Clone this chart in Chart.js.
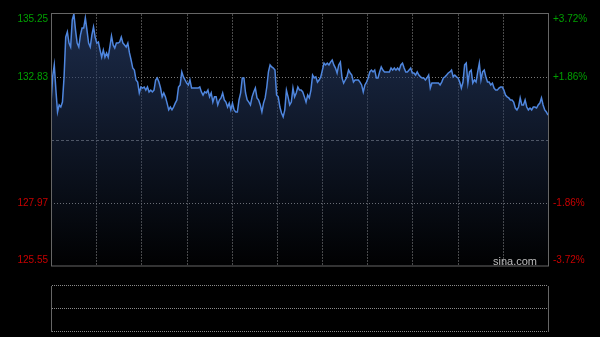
<!DOCTYPE html>
<html>
<head>
<meta charset="utf-8">
<script src="https://cdn.jsdelivr.net/npm/chart.js@4"></script>
<style>
  html, body { margin: 0; padding: 0; background: #000; }
  #wrap { position: relative; width: 600px; height: 337px; }
  canvas { position: absolute; left: 0; }
</style>
</head>
<body>
<div id="wrap">
  <canvas id="priceChart" width="600" height="337" style="top:0"></canvas>
  <canvas id="volChart" width="600" height="59" style="top:278px"></canvas>
</div>
<script>
// intraday prices
const prices = [
    131.82, 132.83, 133.29, 132.32, 131.48, 131.75, 131.67, 131.86, 132.83, 134.36,
    134.56, 134.13, 133.98, 135.02, 135.25, 134.63, 134.13, 133.98, 134.44, 134.71,
    134.71, 135.10, 134.63, 134.13, 133.98, 134.44, 134.75, 134.36, 134.13, 134.17,
    133.86, 133.59, 133.86, 133.59, 133.75, 133.59, 133.98, 134.40, 134.06, 133.94,
    134.13, 134.13, 134.17, 134.36, 134.13, 134.06, 133.98, 134.13, 133.75, 133.48,
    133.17, 133.09, 132.71, 132.63, 132.21, 132.44, 132.40, 132.44, 132.32, 132.44,
    132.25, 132.32, 132.25, 132.32, 132.71, 132.79, 132.63, 132.40, 132.06, 132.21,
    132.06, 131.82, 131.56, 131.67, 131.56, 131.67, 131.82, 131.94,
    132.44, 132.52, 133.02, 132.83, 132.71, 132.59, 132.52, 132.71, 132.40, 132.40,
    132.40, 132.40, 132.40, 132.44, 132.25, 132.13, 132.25, 132.21, 132.32, 132.06,
    132.21, 131.86, 132.06, 132.06, 131.75, 131.94, 132.02, 132.21, 131.94, 131.86,
    131.67, 131.82, 131.56, 131.82, 131.56, 131.48, 131.48, 131.94, 132.21, 132.79,
    132.79, 132.21, 131.94, 131.86, 131.75, 132.06, 132.25, 132.40, 132.02, 131.94,
    131.75, 131.48, 131.82, 132.02, 132.44, 133.02, 133.29, 133.21, 133.17, 133.09,
    132.13, 132.06, 131.67, 131.44, 131.29, 131.56, 132.32, 132.06, 131.75, 131.86,
    132.40, 132.06, 132.21, 132.44, 132.32,
    132.32, 132.25, 132.06, 131.86, 132.13, 132.02, 132.32, 132.90, 132.79, 132.83,
    132.63, 132.71, 132.83, 133.09, 133.36, 133.29, 133.36, 133.29, 133.40, 133.48,
    133.29, 133.17, 132.98, 133.29, 133.40, 132.79, 132.59, 132.71, 132.83, 133.09,
    132.98, 132.90, 132.63, 132.71, 132.71, 132.71, 132.63, 132.52, 132.25, 132.52,
    132.63, 132.79, 133.02, 133.09, 133.02, 133.09, 132.79, 132.79, 133.02, 133.21,
    133.09, 133.02, 133.02, 133.02, 133.02, 133.17, 133.09, 133.17, 133.09, 133.17,
    133.09, 133.29, 133.36, 133.17, 133.02, 133.02, 133.09, 133.17, 132.98, 132.98,
    132.90, 133.02, 132.90, 132.83, 132.79, 132.79,
    132.71, 132.79, 132.90, 132.40, 132.59, 132.59, 132.59, 132.59, 132.59, 132.52,
    132.63, 132.79, 132.83, 132.90, 132.98, 133.02, 133.09, 132.83, 132.90, 132.83,
    132.79, 132.63, 132.40, 132.63, 133.29, 133.36, 132.59, 133.02, 133.09, 132.59,
    132.71, 132.63, 133.02, 133.36, 132.71, 133.02, 133.09, 132.83, 132.63, 132.63,
    132.52, 132.59, 132.40, 132.32, 132.32, 132.40, 132.44, 132.44, 132.32, 132.13,
    132.06, 132.02, 131.94, 131.94, 131.86, 131.63, 131.56, 131.67, 132.02, 131.75,
    131.75, 131.94, 131.67, 131.56, 131.63, 131.56, 131.67, 131.67, 131.63, 131.75,
    131.82, 132.02, 131.75, 131.56, 131.48, 131.36
];

const prevClose = 130.40;
const yTicks = [135.25, 132.83, 130.40, 127.97, 125.55];
const priceLabels = ['135.25', '132.83', '', '127.97', '125.55'];
const pctLabels = ['+3.72%', '+1.86%', '', '-1.86%', '-3.72%'];
const timeDivisions = 11;

const UP = '#00a000';
const DOWN = '#c80000';
const FRAME = '#666666';
const N = prices.length;

// grid + frame + side labels
const decorPlugin = {
    id: 'decor',
    beforeDatasetsDraw(chart) {
        const { ctx, chartArea: a, scales: { x, y } } = chart;
        ctx.save();
        ctx.lineWidth = 1;
        // vertical dotted lines
        ctx.strokeStyle = '#4a4a4a';
        ctx.setLineDash([2, 1]);
        for (let k = 1; k < timeDivisions; k++) {
            const px = Math.round(x.getPixelForValue(k * (N - 1) / timeDivisions)) + 0.5;
            ctx.beginPath();
            ctx.moveTo(px, a.top);
            ctx.lineTo(px, a.bottom);
            ctx.stroke();
        }
        // horizontal lines
        yTicks.forEach(v => {
            if (v === yTicks[0] || v === yTicks[yTicks.length - 1]) return;
            const py = Math.round(y.getPixelForValue(v)) + 0.5;
            if (v === prevClose) {
                ctx.strokeStyle = '#6a6a6a';
                ctx.setLineDash([3, 2]);
            } else {
                ctx.strokeStyle = '#7a7a7a';
                ctx.setLineDash([1, 2]);
            }
            ctx.beginPath();
            ctx.moveTo(a.left, py);
            ctx.lineTo(a.right, py);
            ctx.stroke();
        });
        ctx.restore();
    },
    afterDraw(chart) {
        const { ctx, chartArea: a, scales: { y } } = chart;
        ctx.save();
        ctx.strokeStyle = FRAME;
        ctx.lineWidth = 1;
        ctx.setLineDash([]);
        ctx.strokeRect(a.left + 0.5, a.top - 0.5, a.right - a.left, a.bottom - a.top + 0.5);

        ctx.font = '10px "Liberation Sans", Arial, sans-serif';
        ctx.textBaseline = 'middle';
        yTicks.forEach((v, i) => {
            let py = y.getPixelForValue(v);
            py = Math.max(a.top + 5, Math.min(a.bottom - 6, py));
            ctx.fillStyle = v > prevClose ? UP : DOWN;
            ctx.textAlign = 'right';
            ctx.fillText(priceLabels[i], a.left - 3, py);
            ctx.textAlign = 'left';
            ctx.fillText(pctLabels[i], a.right + 5, py);
        });

        ctx.font = '11px "Liberation Sans", Arial, sans-serif';
        ctx.fillStyle = '#bdbdbd';
        ctx.textAlign = 'right';
        ctx.fillText('sina.com', a.right - 11, a.bottom - 4);
        ctx.restore();
    }
};

new Chart(document.getElementById('priceChart'), {
    type: 'line',
    data: {
        datasets: [{
            data: prices.map((p, i) => ({ x: i, y: p })),
            borderColor: '#4f86de',
            borderWidth: 1.5,
            pointRadius: 0,
            tension: 0,
            fill: 'start',
            backgroundColor: (context) => {
                const { ctx, chartArea } = context.chart;
                if (!chartArea) return 'rgba(36,56,96,0.4)';
                const g = ctx.createLinearGradient(0, chartArea.top, 0, chartArea.bottom);
                g.addColorStop(0, 'rgba(36,56,96,0.78)');
                g.addColorStop(1, 'rgba(36,56,96,0.02)');
                return g;
            }
        }]
    },
    options: {
        responsive: false,
        animation: false,
        layout: { padding: { left: 51, right: 52, top: 14, bottom: 71 } },
        plugins: { legend: { display: false }, tooltip: { enabled: false } },
        scales: {
            x: { type: 'linear', min: 0, max: N - 1, display: false },
            y: { min: yTicks[yTicks.length - 1], max: yTicks[0], display: false }
        }
    },
    plugins: [decorPlugin]
});

// volume panel (bars are too small to read, only the frame shows)
const volPlugin = {
    id: 'volFrame',
    afterDraw(chart) {
        const { ctx, chartArea: a, scales: { y } } = chart;
        ctx.save();
        ctx.lineWidth = 1;
        ctx.strokeStyle = FRAME;
        ctx.beginPath();
        ctx.moveTo(a.left + 0.5, a.top);
        ctx.lineTo(a.left + 0.5, a.bottom);
        ctx.moveTo(a.right + 0.5, a.top);
        ctx.lineTo(a.right + 0.5, a.bottom);
        ctx.stroke();
        ctx.strokeStyle = '#8a8a8a';
        ctx.setLineDash([1, 1]);
        [1, 0.5, 0].forEach(v => {
            const py = Math.round(y.getPixelForValue(v)) - 0.5;
            ctx.beginPath();
            ctx.moveTo(a.left + 1, py);
            ctx.lineTo(a.right, py);
            ctx.stroke();
        });
        ctx.restore();
    }
};

new Chart(document.getElementById('volChart'), {
    type: 'bar',
    data: { datasets: [{ data: [] }] },
    options: {
        responsive: false,
        animation: false,
        layout: { padding: { left: 51, right: 52, top: 8, bottom: 5 } },
        plugins: { legend: { display: false }, tooltip: { enabled: false } },
        scales: {
            x: { type: 'linear', min: 0, max: N - 1, display: false },
            y: { min: 0, max: 1, display: false }
        }
    },
    plugins: [volPlugin]
});
</script>
</body>
</html>
